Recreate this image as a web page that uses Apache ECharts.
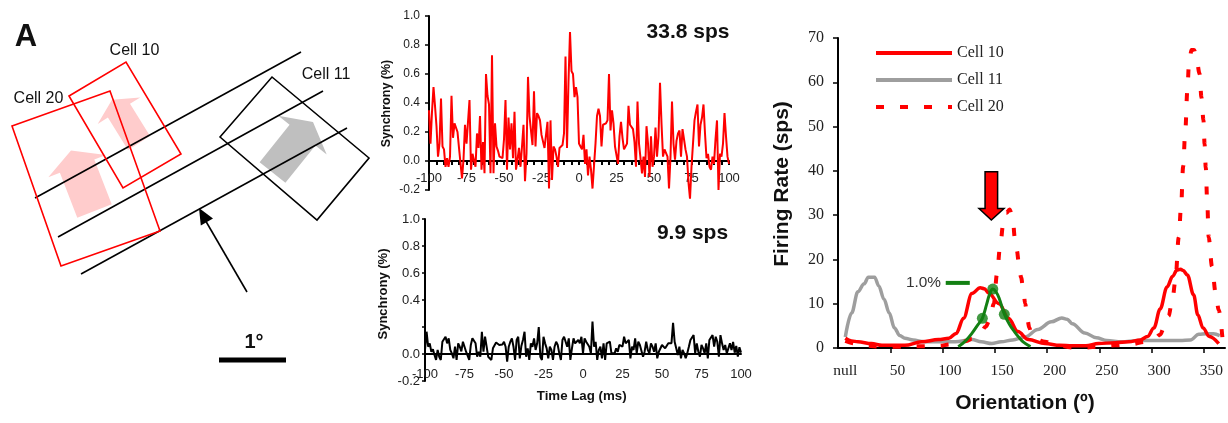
<!DOCTYPE html>
<html><head><meta charset="utf-8">
<script src="https://cdn.jsdelivr.net/npm/echarts@6/dist/echarts.min.js"></script>
<style>html,body{margin:0;padding:0;background:#fff}#c{width:1228px;height:423px}</style>
</head><body><div id="c"></div>
<script>
// ---------------- DATA ----------------
const lagLabels = [-100, -75, -50, -25, 0, 25, 50, 75, 100];
const lags = Array.from({length: 201}, (_, i) => i - 100);   // 1 ms bins
const synchronyTop = [
0.35,0.12,0.34,0.51,0.38,0.24,0.03,0.12,0.43,0.10,
0.08,-0.04,0.02,-0.04,0.03,0.45,0.16,0.26,0.26,0.20,
0.09,0.08,-0.12,0.01,0.25,0.12,0.12,0.42,-0.06,0.05,
0.05,-0.04,0.19,0.09,0.31,-0.06,0.13,-0.085,0.60,0.45,
0.39,-0.085,0.73,-0.085,0.26,0.10,0.07,0.03,0.03,0.02,
0.15,0.42,-0.06,0.30,0.08,0.26,0.02,0.34,-0.06,0.01,
0.09,-0.04,0.10,0.25,-0.14,0.05,0.58,0.31,0.31,0.11,
0.48,0.10,0.33,0.31,0.28,0.18,0.18,0.09,0.08,0.27,
-0.19,0.28,-0.13,0.10,0.08,0.03,-0.04,0.09,0.09,0.11,
0.19,0.72,0.09,0.55,0.89,0.62,0.60,0.44,0.51,0.44,
0.12,0.10,0.08,0.18,-0.02,0.08,-0.10,0.03,-0.06,-0.19,
-0.20,0.12,0.31,0.36,0.31,0.10,0.25,0.26,0.26,0.28,
0.60,0.21,0.35,0.26,0.10,0.09,-0.02,0.17,0.27,0.16,
0.08,0.07,0.12,0.38,0.25,0.26,0.22,0.13,-0.04,0.41,
0.12,0.02,-0.085,0.03,-0.11,0.24,0.12,-0.11,0.17,-0.04,
0.03,0.23,0.03,0.17,0.54,0.26,0.03,0.08,0.08,0.03,
-0.19,0.03,0.41,0.12,0.01,0.14,0.19,0.21,0.03,0.22,
0.15,0.08,0.03,-0.15,-0.26,-0.04,-0.04,0.28,0.34,0.39,
0.10,0.25,0.30,0.39,0.19,0.02,0.05,-0.04,-0.06,0.03,
-0.02,0.15,0.28,-0.20,0.05,0.03,0.12,0.33,0.17,0.03,
-0.02];
const synchronyBottom = [
0.03,0.165,0.054,0.079,0.017,0.035,-0.007,-0.044,0.03,-0.02,
-0.044,0.091,0.104,0.128,0.079,0.116,0.03,0.005,-0.032,0.054,
-0.044,0.079,0.054,0.02,0.091,0.104,0.017,0.005,-0.044,0.067,
0.116,0.104,0.079,-0.02,0.017,-0.02,0.165,0.017,0.128,0.054,
-0.02,-0.02,-0.044,0.042,0.054,0.085,0.079,0.067,0.079,0.07,
0.091,0.054,-0.057,0.054,0.091,0.116,0.054,-0.044,0.104,0.128,
-0.032,0.06,0.104,0.165,-0.02,0.042,-0.044,0.079,0.054,0.116,
0.03,0.079,0.2,-0.02,-0.044,0.128,0.079,0.042,-0.032,0.054,
0.03,-0.044,0.054,0.091,0.067,0.005,-0.044,0.104,0.128,0.091,
0.054,0.116,-0.044,0.042,0.116,0.079,0.09,0.104,0.079,0.128,
0.005,0.116,0.091,0.104,0.054,0.005,0.24,0.054,0.091,-0.044,
0.03,0.054,-0.032,0.079,-0.044,0.079,0.067,0.091,0.005,0.017,
0.005,0.042,0.017,0.067,0.054,0.054,0.128,0.079,0.067,0.104,
-0.032,0.054,0.03,0.116,0.005,0.091,0.067,0.054,-0.02,0.017,
0.091,0.03,0.005,0.079,0.054,0.017,0.079,-0.032,0.017,0.03,
0.067,0.054,0.042,0.042,0.079,0.08,0.08,0.23,0.091,0.042,
-0.007,0.054,-0.032,0.03,0.005,-0.032,0.005,0.054,0.104,0.116,
0.14,0.005,0.079,0.017,-0.02,0.067,0.042,0.005,0.079,-0.032,
0.104,0.10,0.14,0.054,0.128,0.091,-0.02,0.14,0.079,0.03,
0.067,0.005,0.042,0.079,0.03,0.09,0.01,0.06,-0.02,0.05,
0.01];
const rateTopLabel = '33.8 sps';
const rateBottomLabel = '9.9 sps';

// tuning curves (orientation in degrees, firing rate in sps)
const orientationLabels = [0, 50, 100, 150, 200, 250, 300, 350];
const cell10Ori  = [0,6,12,25,35,57,73,89,99,106,113,121,129,133,137,147,156,165,175,191,205,217,230,242,258,271,282,289,295,301,307.6,313,317,320.5,323,327,333,337,342,348,357];
const cell10Rate = [2.2,1.6,1.4,1.0,0.6,0.6,1.4,1.9,2.2,3.3,6.7,12.3,13.6,13.4,12.4,10,6.7,3.7,1.9,1.0,0.6,0.5,0.5,1.0,1.2,1.4,1.8,2.6,4.5,8.8,13.8,16.2,17.6,17.8,17.5,16.5,12,7.5,4.5,2.6,1.0];
const cell11Ori  = [0,6,12,18,22,28,32,37,42,47,52,57,65,75,90,105,121,130,140,149,160,172,184,197,207,212,217,229,240,250,264,280,300,320,330,338,345,352,358];
const cell11Rate = [2.5,7.9,12.7,14.5,16,16,14,11,7.9,4.5,2.8,2.2,1.8,1.4,1.4,1.4,1.9,1.4,1.0,1.4,1.8,2.5,4.2,5.9,6.8,6.5,5.5,3.4,2.3,1.7,1.4,1.7,1.7,1.7,1.8,3.1,3.2,3.2,2.8];
const cell20Ori  = [0,10,20,35,50,70,90,100,110,116,121,126,130,134,138,142,145,148,151,154,157,160,162,164,166,168,170,172,174,176,178,182,191,200,217,230,242,258,274,287,295,301,305,309,313,315.6,318.8,321,323,325,327,328.5,331,333.5,336,338.6,340.5,342.4,343.5,344.6,346,347.4,350.6,354,357,361];
const cell20Rate = [1.6,1.0,0.5,0.3,0.3,0.4,0.5,0.8,1.2,1.6,2.1,2.8,3.7,4.8,6.2,10,16.7,23,28,30.5,31.3,29.6,25,22,19,16,13.5,10,6.5,4.5,3.0,2.0,1.4,0.8,0.1,0.1,0.3,0.6,0.9,1.4,2.0,3.0,4.8,7.2,11.5,15.3,25,32,41,49,58,64,67.3,67.3,65,62,56.6,51.5,46,40.8,33,25,18.4,12.5,8.6,1.0];
// synchrony (green) fitted curve and its three measured points
const syncOri  = [108,115,121,126,131,135,138,141,144,147,152,157,162,166,170,177];
const syncCurve = [0.3,1.6,3.3,5.0,6.7,9.8,12.2,13.3,12.7,11.3,7.7,5.3,3.6,2.4,1.4,0.3];
const syncPointOri = [131, 141, 152];
const syncPointVal = [6.7, 13.3, 7.6];
const syncScaleBar = [[96, 14.7], [119, 14.7]];   // "1.0%" scale bar
const stimArrow = [[133.6,39.8],[145.6,39.8],[145.6,31.5],[151.7,31.5],[139.6,28.9],[127.8,31.5],[133.6,31.5]];

// schematic (receptive field map), units of the sketch plane
const arrowCell20 = [[71,150.5],[106,155],[94.3,159.4],[111.7,204.3],[77.3,217.7],[59.9,172.8],[48.3,177.3]];
const arrowCell10 = [[112,99.7],[140.2,97.5],[130,103.8],[150,136.1],[128,149.9],[107.9,117.6],[97.7,124]];
const arrowCell11 = [[313,122],[326.7,154.5],[315.4,145.4],[285.4,182.8],[259.6,162.2],[289.6,124.8],[278.3,115.7]];
const rfCell10 = [[69,96],[126,62],[181,154],[123,188]];
const rfCell20 = [[12,126],[110,91],[160,231],[61,266]];
const rfCell11 = [[220,137],[272,77],[369,158],[317,220]];
const barLines = [[[35,198],[301,52]], [[58,237],[323,91]], [[81,274],[347,128]]];
const motionArrowShaft = [[247,292],[204,218]];
const motionArrowHead = [[199,208],[213,218.4],[200.8,225.4]];
const scaleBar1deg = [[219,360],[286,360]];

// ---------------- CHART ----------------
const chart = echarts.init(document.getElementById('c'), null, {renderer: 'canvas'});
const SANS = 'Liberation Sans, Arial, sans-serif';
const SERIF = 'Liberation Serif, Times New Roman, serif';

const shapes = [
  {pts: arrowCell11, closed: true, fill: '#bfbfbf'},
  {pts: arrowCell20, closed: true, fill: '#ffcccc'},
  {pts: arrowCell10, closed: true, fill: '#ffcccc'},
  ...barLines.map(l => ({pts: l, stroke: '#000', lw: 1.6})),
  {pts: rfCell10, closed: true, stroke: '#ff0000', lw: 1.6},
  {pts: rfCell20, closed: true, stroke: '#ff0000', lw: 1.6},
  {pts: rfCell11, closed: true, stroke: '#000', lw: 1.6},
  {pts: motionArrowShaft, stroke: '#000', lw: 1.6},
  {pts: motionArrowHead, closed: true, fill: '#000'},
  {pts: scaleBar1deg, stroke: '#000', lw: 5}
];

function shapeItem(params, api) {
  const s = shapes[params.dataIndex];
  const pts = s.pts.map(p => api.coord(p));
  if (s.closed) {
    return {type: 'polygon', shape: {points: pts},
      style: {fill: s.fill || 'none', stroke: s.stroke || null, lineWidth: s.lw || 0}};
  }
  return {type: 'polyline', shape: {points: pts}, style: {fill: null, stroke: s.stroke, lineWidth: s.lw}};
}

const midLabel = {color: '#222', fontFamily: SANS};

function txt(text, x, y, size, bold, opts) {
  return Object.assign({
    type: 'text', x: x, y: y, z: 100,
    style: {text: text, x: 0, y: 0, fill: '#111', align: 'center', verticalAlign: 'middle',
      textAlign: 'center', textVerticalAlign: 'middle',
      font: (bold ? 'bold ' : '') + size + 'px ' + SANS}
  }, opts || {});
}

const option = {
  animation: false,
  backgroundColor: '#fff',
  textStyle: {fontFamily: SANS},
  grid: [
    {left: 0, top: 0, width: 370, height: 400, containLabel: false},
    {left: 429, top: 16, width: 300, height: 174, containLabel: false},
    {left: 425, top: 219, width: 316, height: 162, containLabel: false},
    {left: 838, top: 38, right: 3, bottom: 75, containLabel: false}
  ],
  xAxis: [
    {gridIndex: 0, type: 'value', min: 0, max: 370, show: false},
    {gridIndex: 1, type: 'value', min: -100, max: 100, interval: 25,
      axisLine: {onZero: true, lineStyle: {color: '#000', width: 2}},
      axisTick: {show: true, length: 4, inside: false, lineStyle: {color: '#000', width: 2}},
      minorTick: {show: true, splitNumber: 5, length: 4, lineStyle: {color: '#000', width: 2}},
      splitLine: {show: false},
      axisLabel: Object.assign({fontSize: 13, margin: -18.5, showMinLabel: true, showMaxLabel: true}, midLabel)},
    {gridIndex: 2, type: 'value', min: -100, max: 100, interval: 25,
      axisLine: {onZero: true, lineStyle: {color: '#000', width: 2}},
      axisTick: {show: false},
      splitLine: {show: false},
      axisLabel: Object.assign({fontSize: 13, margin: -13.5, showMinLabel: true, showMaxLabel: true}, midLabel)},
    {gridIndex: 3, type: 'value', min: -7, max: 363,
      axisLine: {onZero: false, lineStyle: {color: '#000', width: 2}},
      axisTick: {show: true, length: 5, inside: false, customValues: [43, 93, 143, 193, 243, 293, 343],
        lineStyle: {color: '#000', width: 1.5}},
      splitLine: {show: false},
      axisLabel: {customValues: orientationLabels, formatter: v => (v === 0 ? 'null' : String(v)),
        fontFamily: SERIF, fontSize: 15.5, color: '#222', margin: 15}}
  ],
  yAxis: [
    {gridIndex: 0, type: 'value', min: 0, max: 400, inverse: true, show: false},
    {gridIndex: 1, type: 'value', min: -0.2, max: 1.0, interval: 0.2,
      axisLine: {show: true, onZero: false, lineStyle: {color: '#000', width: 2}},
      axisTick: {show: true, length: 4, inside: false, lineStyle: {color: '#000', width: 1.5}},
      splitLine: {show: false},
      axisLabel: Object.assign({fontSize: 12, margin: 9, formatter: v => v.toFixed(1)}, midLabel)},
    {gridIndex: 2, type: 'value', min: -0.2, max: 1.0, interval: 0.2,
      axisLine: {show: true, onZero: false, lineStyle: {color: '#000', width: 2}},
      axisTick: {show: true, length: 3, inside: false, lineStyle: {color: '#000', width: 1.5}},
      splitLine: {show: false},
      axisLabel: Object.assign({fontSize: 13, margin: 5,
        formatter: v => (Math.abs(v - 0.2) < 1e-6 ? '' : v.toFixed(1))}, midLabel)},
    {gridIndex: 3, type: 'value', min: 0, max: 70, interval: 10,
      axisLine: {show: true, onZero: false, lineStyle: {color: '#000', width: 2}},
      axisTick: {show: true, length: 5, inside: false, lineStyle: {color: '#000', width: 1.5}},
      splitLine: {show: false},
      axisLabel: {fontFamily: SERIF, fontSize: 16, color: '#222', margin: 14}}
  ],
  legend: {
    data: ['Cell 10', 'Cell 11', 'Cell 20'],
    orient: 'vertical', left: 869, top: 40,
    itemWidth: 76, itemHeight: 14, itemGap: 11,
    selectedMode: false,
    itemStyle: {color: 'rgba(0,0,0,0)', borderColor: 'rgba(0,0,0,0)', borderWidth: 0},
    lineStyle: {width: 4},
    textStyle: {fontFamily: SERIF, fontSize: 16, color: '#222'}
  },
  series: [
    {type: 'custom', xAxisIndex: 0, yAxisIndex: 0, renderItem: shapeItem, silent: true,
      data: shapes.map(s => [s.pts[0][0], s.pts[0][1]])},

    {type: 'line', xAxisIndex: 1, yAxisIndex: 1, showSymbol: false, symbol: 'none', clip: false,
      lineStyle: {color: '#ff0000', width: 2}, z: 3,
      data: lags.map((l, i) => [l, synchronyTop[i]])},
    {type: 'line', xAxisIndex: 2, yAxisIndex: 2, showSymbol: false, symbol: 'none', clip: false,
      lineStyle: {color: '#000', width: 2}, z: 3,
      data: lags.map((l, i) => [l, synchronyBottom[i]])},

    {name: 'Cell 11', type: 'line', xAxisIndex: 3, yAxisIndex: 3, symbol: 'none', smooth: 0.35,
      smoothMonotone: 'x', clip: false, z: 2, itemStyle: {color: '#9e9e9e'},
      lineStyle: {color: '#9e9e9e', width: 3.5},
      data: cell11Ori.map((x, i) => [x, cell11Rate[i]])},
    {name: 'Cell 20', type: 'line', xAxisIndex: 3, yAxisIndex: 3, symbol: 'none', smooth: 0.35,
      smoothMonotone: 'x', clip: false, z: 3, itemStyle: {color: '#ff0000'},
      lineStyle: {color: '#ff0000', width: 4, type: [8, 16], cap: 'butt'},
      data: cell20Ori.map((x, i) => [x, cell20Rate[i]])},
    {name: 'Cell 10', type: 'line', xAxisIndex: 3, yAxisIndex: 3, symbol: 'none', smooth: 0.35,
      smoothMonotone: 'x', clip: false, z: 4, itemStyle: {color: '#ff0000'},
      lineStyle: {color: '#ff0000', width: 3.5},
      data: cell10Ori.map((x, i) => [x, cell10Rate[i]])},
    {type: 'line', xAxisIndex: 3, yAxisIndex: 3, symbol: 'none', smooth: 0.4, clip: false, z: 5,
      lineStyle: {color: '#138013', width: 3},
      data: syncOri.map((x, i) => [x, syncCurve[i]])},
    {type: 'scatter', xAxisIndex: 3, yAxisIndex: 3, symbol: 'circle', symbolSize: 11, z: 6,
      itemStyle: {color: '#138013'},
      data: syncPointOri.map((x, i) => [x, syncPointVal[i]])},
    {type: 'line', xAxisIndex: 3, yAxisIndex: 3, symbol: 'none', z: 5,
      lineStyle: {color: '#138013', width: 4}, data: syncScaleBar},
    {type: 'custom', xAxisIndex: 3, yAxisIndex: 3, z: 7, silent: true,
      renderItem: (params, api) => ({type: 'polygon', shape: {points: stimArrow.map(p => api.coord(p))},
        style: {fill: '#ff0000', stroke: '#000', lineWidth: 1.5}}),
      data: [stimArrow[0]]}
  ],
  graphic: [
    txt('A', 26, 37, 31, true),
    txt('Cell 10', 134.5, 51, 16, false),
    txt('Cell 20', 38.5, 99, 16, false),
    txt('Cell 11', 326, 75, 16, false),
    txt('1°', 254, 342, 20, true),
    txt(rateTopLabel, 688, 32, 21, true),
    txt(rateBottomLabel, 692.5, 233, 21, true),
    txt('Synchrony (%)', 387, 103.5, 12.5, true, {rotation: Math.PI / 2}),
    txt('Synchrony (%)', 383.5, 294, 13, true, {rotation: Math.PI / 2}),
    txt('Time Lag (ms)', 581.7, 396, 13.3, true),
    txt('Firing Rate (sps)', 782, 184, 21, true, {rotation: Math.PI / 2}),
    txt('Orientation (º)', 1025, 403, 21, true),
    {type: 'text', x: 941, y: 283, z: 100,
      style: {text: '1.0%', x: 0, y: 0, fill: '#333', align: 'right', verticalAlign: 'middle',
        textAlign: 'right', textVerticalAlign: 'middle', font: '15.4px ' + SANS}}
  ]
};
chart.setOption(option);
</script>
</body></html>
